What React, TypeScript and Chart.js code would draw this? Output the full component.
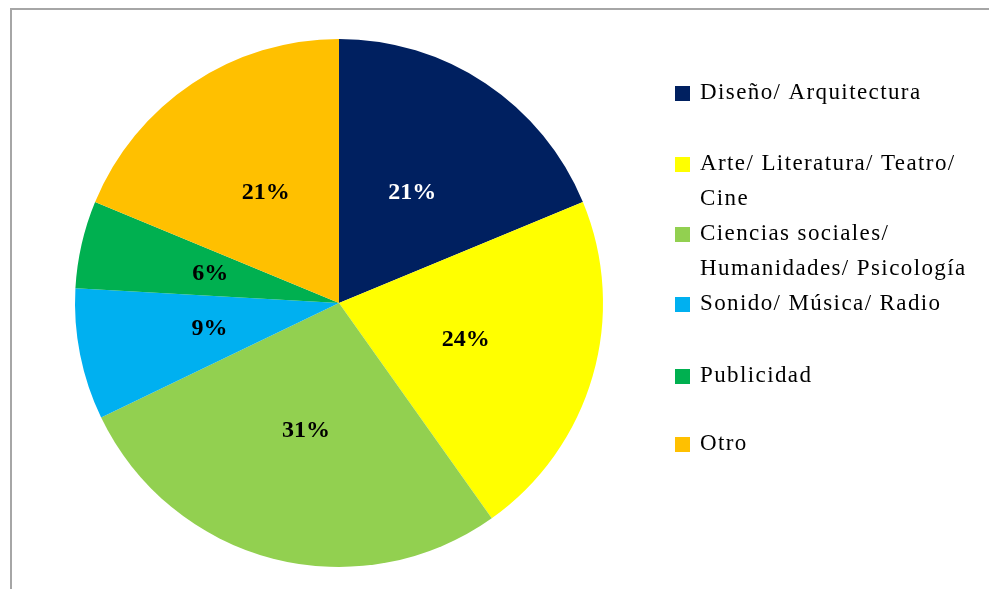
import React, { useEffect, useRef } from "react";
import { Chart, registerables } from "chart.js";

Chart.register(...registerables);

const categories = [
  "Diseño/ Arquitectura",
  "Arte/ Literatura/ Teatro/ Cine",
  "Ciencias sociales/ Humanidades/ Psicología",
  "Sonido/ Música/ Radio",
  "Publicidad",
  "Otro",
];
const legendLines = [
  ["Diseño/ Arquitectura"],
  ["Arte/ Literatura/ Teatro/", "Cine"],
  ["Ciencias sociales/", "Humanidades/ Psicología"],
  ["Sonido/ Música/ Radio"],
  ["Publicidad"],
  ["Otro"],
];
const values = [21, 24, 31, 9, 6, 21];
const colors = ["#002060", "#FFFF00", "#92D050", "#00B0F0", "#00B050", "#FFC000"];
const labelColors = ["#FFFFFF", "#000000", "#000000", "#000000", "#000000", "#000000"];

// layout (not data)
const LEGEND_X = 675;
const LEGEND_ROW_Y = [93, 164, 234, 304, 376, 444];
const LEGEND_LINE_H = 35;
const SERIF = "'Liberation Serif', 'DejaVu Serif', serif";

const labelsPlugin = {
  id: "sliceLabels",
  afterDatasetsDraw(chart: any) {
    const ctx = chart.ctx;
    const meta = chart.getDatasetMeta(0);
    ctx.save();
    ctx.font = `bold 24px ${SERIF}`;
    ctx.textAlign = "center";
    ctx.textBaseline = "middle";
    meta.data.forEach((arc: any, i: number) => {
      const p = arc.tooltipPosition();
      ctx.fillStyle = labelColors[i];
      ctx.fillText(`${values[i]}%`, p.x, p.y);
    });
    ctx.restore();
  },
};

const legendPlugin = {
  id: "customLegend",
  afterDraw(chart: any) {
    const ctx = chart.ctx;
    ctx.save();
    ctx.font = `23px ${SERIF}`;
    (ctx as any).letterSpacing = "1.4px";
    ctx.textAlign = "left";
    ctx.textBaseline = "middle";
    legendLines.forEach((lines, i) => {
      const y = LEGEND_ROW_Y[i];
      ctx.fillStyle = colors[i];
      ctx.fillRect(LEGEND_X, y - 7, 15, 15);
      ctx.fillStyle = "#000000";
      lines.forEach((t, j) => {
        ctx.fillText(t, LEGEND_X + 25, y + j * LEGEND_LINE_H);
      });
    });
    ctx.restore();
  },
};

export default function App() {
  const ref = useRef<HTMLCanvasElement>(null);
  useEffect(() => {
    if (!ref.current) return;
    const chart = new Chart(ref.current, {
      type: "pie",
      data: {
        labels: categories,
        datasets: [
          {
            data: values,
            backgroundColor: colors,
            borderWidth: 0,
          },
        ],
      },
      options: {
        animation: false,
        responsive: false,
        layout: { padding: { top: 39, bottom: 22, left: 75, right: 386 } },
        plugins: {
          legend: { display: false },
          tooltip: { enabled: false },
        },
      },
      plugins: [labelsPlugin, legendPlugin],
    });
    return () => chart.destroy();
  }, []);
  return (
    <div style={{ position: "fixed", left: 0, top: 0, width: 989, height: 589, background: "#fff" }}>
      <div
        style={{
          position: "absolute",
          left: 10,
          top: 8,
          width: 1000,
          height: 600,
          borderLeft: "2px solid #a6a6a6",
          borderTop: "2px solid #a6a6a6",
        }}
      />
      <canvas ref={ref} width={989} height={589} style={{ position: "absolute", left: 0, top: 0 }} />
    </div>
  );
}
